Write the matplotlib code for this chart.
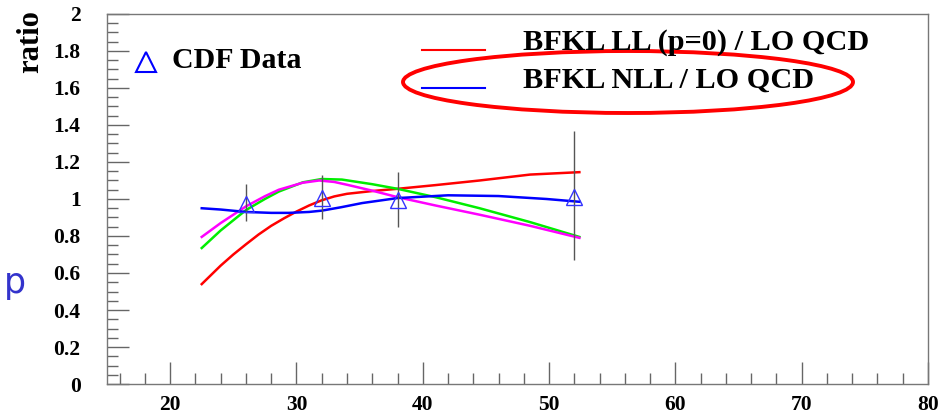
import matplotlib
matplotlib.use("Agg")
import matplotlib.pyplot as plt
from matplotlib.patches import Ellipse
from matplotlib.ticker import MultipleLocator
from matplotlib.lines import Line2D

# CDF data points
cdf_x = [26, 32, 38, 52]
cdf_y = [0.975, 1.005, 0.995, 1.01]
cdf_err_lo = [0.095, 0.115, 0.145, 0.34]
cdf_err_hi = [0.105, 0.125, 0.15, 0.36]

# curves
red_x = [22.5, 24, 25, 26, 27, 28, 29, 30, 31, 32, 33, 34, 36, 38, 41, 44.5, 48.5, 52.4]
red_y = [0.54, 0.64, 0.70, 0.755, 0.808, 0.855, 0.895, 0.932, 0.965, 0.993, 1.014, 1.028, 1.043, 1.055, 1.075, 1.10, 1.132, 1.145]
blue_x = [22.5, 24, 26, 28, 29.4, 31, 32, 33.5, 35.2, 38, 42, 46, 49.8, 52.4]
blue_y = [0.95, 0.943, 0.93, 0.925, 0.925, 0.93, 0.937, 0.955, 0.978, 1.005, 1.02, 1.016, 1.0, 0.985]
green_x = [22.5, 24, 26, 27.5, 28.6, 30.5, 32, 33.6, 36, 38, 41, 44.5, 48.5, 52.4]
green_y = [0.735, 0.83, 0.94, 1.0, 1.04, 1.09, 1.108, 1.105, 1.08, 1.055, 1.01, 0.95, 0.875, 0.795]
magenta_x = [22.5, 24, 26, 27.5, 28.6, 30.5, 31.8, 33, 34, 36, 38, 41, 44.5, 48.5, 52.4]
magenta_y = [0.795, 0.87, 0.96, 1.015, 1.05, 1.088, 1.10, 1.092, 1.077, 1.045, 1.01, 0.965, 0.915, 0.855, 0.79]

SERIF = "Liberation Serif"

fig = plt.figure(figsize=(9.42, 4.16), dpi=100)
ax = fig.add_axes([0.1136, 0.0769, 0.8715, 0.8895])

ax.plot(red_x, red_y, color="#ff0000", lw=1.8)
ax.plot(green_x, green_y, color="#00ee00", lw=1.8)
ax.plot(magenta_x, magenta_y, color="#ff00ff", lw=1.8)
ax.plot(blue_x, blue_y, color="#0000ff", lw=1.8)

ax.errorbar(cdf_x, cdf_y, yerr=[cdf_err_lo, cdf_err_hi], fmt="none",
            ecolor="#555555", elinewidth=1.0, capsize=0)
ax.plot(cdf_x, cdf_y, ls="none", marker="^", markersize=11,
        markerfacecolor="none", markeredgecolor="#3333ff", markeredgewidth=1.0)

ax.set_xlim(15, 80)
ax.set_ylim(0, 2)
ax.xaxis.set_minor_locator(MultipleLocator(2))
ax.yaxis.set_minor_locator(MultipleLocator(0.05))
ax.set_xticks([20, 30, 40, 50, 60, 70, 80])
ax.set_xticklabels(["20", "30", "40", "50", "60", "70", "80"])
ax.set_yticks([0, 0.2, 0.4, 0.6, 0.8, 1, 1.2, 1.4, 1.6, 1.8, 2])
ax.set_yticklabels(["0", "0.2", "0.4", "0.6", "0.8", "1", "1.2", "1.4", "1.6", "1.8", "2"])
ax.tick_params(which="both", direction="in", color="#666666", top=False, right=False)
ax.tick_params(which="major", length=16, width=1.0)
ax.tick_params(which="minor", length=8, width=1.0)
ax.tick_params(axis="y", pad=19)
ax.tick_params(axis="x", pad=8)
for lab in ax.get_xticklabels() + ax.get_yticklabels():
    lab.set_fontfamily(SERIF)
    lab.set_fontweight("bold")
    lab.set_fontsize(15.5)
for s in ax.spines.values():
    s.set_color("#777777")
    s.set_linewidth(1.0)

# axis title and stray label
fig.text(0.032, 0.9, "ratio", rotation=90, ha="center", va="center",
         family=SERIF, weight="bold", fontsize=22)
fig.text(0.016, 0.32, "p", ha="center", va="center", color="#3333cc",
         family="DejaVu Sans", fontsize=25)

# legend-like annotations
fig.add_artist(Line2D([146 / 942], [1 - 62 / 416], marker="^", markersize=14,
                      markerfacecolor="none", markeredgecolor="#0000ff",
                      markeredgewidth=1.5, transform=fig.transFigure))
fig.text(172 / 942, 1 - 60 / 416, "CDF Data", ha="left", va="center",
         family=SERIF, weight="bold", fontsize=21.5)

fig.add_artist(Line2D([422 / 942, 485 / 942], [1 - 50 / 416, 1 - 50 / 416],
                      color="#ff0000", lw=1.5, transform=fig.transFigure))
fig.text(523 / 942, 1 - 42 / 416, "BFKL LL (p=0) / LO QCD", ha="left", va="center",
         family=SERIF, weight="bold", fontsize=21.8)
fig.add_artist(Line2D([422 / 942, 485 / 942], [1 - 88 / 416, 1 - 88 / 416],
                      color="#0000ff", lw=1.5, transform=fig.transFigure))
fig.text(523 / 942, 1 - 80 / 416, "BFKL NLL / LO QCD", ha="left", va="center",
         family=SERIF, weight="bold", fontsize=21.8)

fig.add_artist(Ellipse((628 / 942, 1 - 82 / 416), 450 / 942, 62 / 416,
                       fill=False, edgecolor="#ff0000", lw=2.8,
                       transform=fig.transFigure))

fig.savefig("out.png", dpi=100)
